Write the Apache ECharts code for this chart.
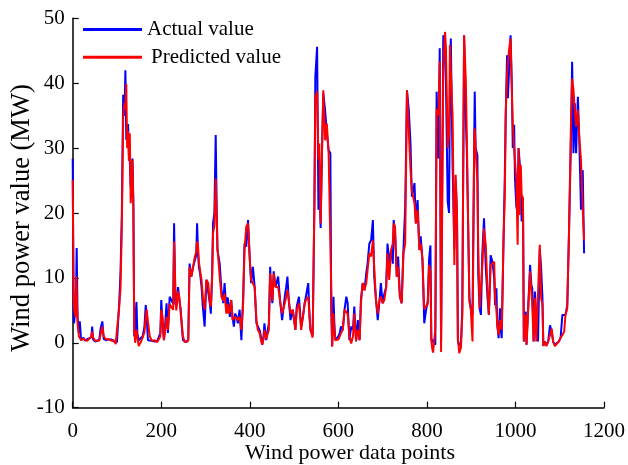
<!DOCTYPE html>
<html>
<head>
<meta charset="utf-8">
<script src="https://cdn.jsdelivr.net/npm/echarts@6/dist/echarts.min.js"></script>
<style>html,body{margin:0;padding:0;background:#fff}#c{width:628px;height:465px}</style>
</head>
<body>
<div id="c"></div>
<script>
// Data point index (x positions)
const points = [
0,2,3,6,8,9,11,14,16,19,24,28,33,37,42,44,46,51,55,60,63,67,70,75,80,84,88,93,97,100,
105,108,111,114,117,119,121,123,125,127,129,131,133,135,137,139,141,144,146,149,153,158,162,165,167,170,174,179,185,191,
195,198,200,203,206,209,212,215,219,223,227,229,232,234,238,241,244,247,249,253,257,261,264,268,272,276,279,281,283,285,
288,291,294,298,302,306,310,312,315,317,320,323,325,327,330,332,336,340,343,347,350,352,355,358,361,364,367,370,373,377,
381,385,388,392,396,400,403,407,411,415,418,422,425,428,431,433,437,441,443,446,448,451,454,458,464,469,473,479,482,485,
488,492,497,503,506,511,516,520,524,527,532,535,537,542,546,548,552,555,557,560,563,566,570,574,578,582,584,586,589,591,
593,597,600,603,606,610,614,618,621,625,629,633,636,640,644,648,651,655,659,663,666,670,674,678,681,685,689,693,696,700,
704,708,711,715,719,723,725,728,732,735,739,743,747,751,755,759,763,766,772,775,779,783,786,790,794,798,802,805,808,810,
812,814,819,822,826,829,832,837,841,843,847,850,852,854,858,862,865,868,870,873,877,880,884,888,890,894,896,899,903,907,
908,910,914,916,919,922,925,929,933,937,940,944,948,952,954,957,959,962,965,967,969,973,976,978,981,983,986,989,992,994,
997,999,1002,1005,1007,1010,1012,1014,1017,1019,1023,1025,1029,1033,1036,1038,1041,1044,1047,1051,1055,1058,1061,1063,1066,1070,1074,1078,1082,1085,
1089,1093,1098,1102,1106,1110,1113,1117,1121,1125,1128,1131,1134,1137,1141,1144,1148,1152,1155
];
// Actual wind power (MW)
const actualValue = [
28.4,5.5,3.0,5,10,14.6,4,1.5,3.3,0.4,0.8,0.3,0.6,0.4,0.8,2.5,0.5,0.2,0.4,0.5,2.2,3.3,0.6,0.4,0.5,0.3,0.5,0.2,0.1,0.1,
6.1,10.9,20,38.2,35,42.0,31.3,33,33.7,29,28,24,27,28.4,22,1,2,6.3,1.5,0.4,0.6,1.0,2.5,5.8,4,0.4,0.5,0.3,0.2,0.3,
0.3,1.5,6.6,3,0.4,3,6.1,1.5,7.1,7.1,6,18.4,6,5.6,8.6,6.5,5.1,2,0.4,0.2,0.1,0.5,12.2,10.2,11.7,12,13.5,18.4,14,11.7,
10.5,8.6,5.5,2.5,9.7,9.7,6,4.5,11,18.4,20,32.0,22,14.3,13,12.2,8.1,6.1,9.2,5.1,7,6.1,4,6.6,4,2.5,4.5,4,3,5.1,
0.4,7.1,15.3,14.8,18.9,12.8,9.2,11.7,8.6,3.0,3.0,2.0,1,-0.3,1,3.0,0.4,0.4,3,11.7,8,6.1,11,8.6,10.2,6.1,3.5,7.1,8.5,10.2,
6.6,3.5,5.1,2.0,5.6,7.1,2.5,4.0,6.1,6.1,9.2,4,2.0,1.2,21.5,41,45.6,20.5,25,17.7,29.2,38.4,35.9,32.3,29.7,29.2,5,-0.5,7.1,3,
0.4,0.2,1,1.5,2.5,2.0,5.1,7.1,6.1,0.4,2.5,2.0,5.6,0.2,3.5,0.4,6.6,9.2,8.1,10.7,12.2,15.3,15.8,18.9,10.2,6.6,3.5,6.6,9.2,6.1,
7.6,8.6,15.3,12.2,14.3,12.2,18.9,17,10.2,13.3,7.1,6.1,14.3,21,38.9,36,30.7,22.5,24.6,18.4,22,14.3,16.4,12.8,3,5,6.5,13,15,0.5,
0,0.5,-0.3,38.7,28.4,45.4,0.2,47.4,43.8,40.2,21.7,20,40,46.9,27.4,14.5,24.8,20,0.2,-0.5,0.2,5.3,47.4,34.1,30,15,6.9,5.3,4.3,32,
38.7,30,28.9,10.4,5.3,4.3,13.5,19.2,11.5,6.9,4.3,13.5,12.5,10,5.8,8.4,2.7,0.7,5.3,2,0.7,15.6,25.9,35.1,44.3,37.7,42.8,47.4,39.2,30,
33.6,25.2,21,20,30,27.4,24.8,18.7,21.7,0.2,4.8,-0.3,0,12,8.9,8.4,0.2,7.9,4.3,0.2,14.5,11.5,6.9,-0.5,0.2,-0.3,0.2,2.7,1.7,0.2,
-0.3,-0.4,0.2,0.8,4.3,4.3,4.3,5.8,17.1,30,43.3,29.2,36.9,29.2,37.9,31.8,20.5,26.6,13.8
];
// Predicted wind power (MW)
const predictedValue = [
25.1,7,5.5,4,10.2,8,3,1,0.8,0.4,0.6,0.5,0.3,0.4,1.0,1.7,0.8,0.3,0.4,0.3,1.3,2.5,1.0,0.5,0.6,0.4,0.3,0.4,-0.2,-0.3,
5.5,8.4,18,34.9,37,36,39.9,30,32.6,28,32.3,21.5,24,28.2,20.6,2,0,2.0,1,-0.5,0,0.8,1.6,4,5.1,3.3,1,0.3,0.4,0.1,
0.2,1,5.1,4,0.4,2,4.0,2,6,5.5,5.1,15.6,8,5,7.9,7,4.5,2.5,1,0.1,0,0.3,11.7,10.2,10.5,13.3,14,15.6,15,12.5,
11,9.7,7,5.1,9.7,9.2,6,5.6,10,16.9,18,25.3,20,14.5,12,10.2,7.1,6.5,7.6,4.5,6,4.5,5,6.6,3.5,3.5,4,4,3.5,4,
2.0,6.1,14.3,17.9,18.4,12.8,9.7,9.7,8.6,3.5,2.0,1.5,0.5,-0.3,0.5,2.0,0.6,0.4,2,10.7,9,6.5,10.7,8.6,8.6,6.1,4.5,6.1,7,8.1,
6.6,4.5,5.1,2.0,5.1,6.1,2.0,4.0,6.1,6.6,7.1,4,2.0,0.8,22.5,37.9,38.7,28.2,30.7,18.4,29.5,38.9,31.2,33.8,29.2,29.0,8,-0.6,4.5,2,
0.4,0.2,0.5,1.0,1.5,2.0,5.1,5.1,4.5,1,-0.1,1,4.5,0.3,2.0,0.4,6.1,9.2,8.1,9.2,11.2,13.8,13.3,15.8,11.7,6.6,4.5,6.6,7.1,6.1,
6.6,8.6,13.8,9.7,14.3,15.3,18.4,17.9,10.2,11.7,7.1,6.1,13.8,15.3,38.9,38.9,26.6,23.5,21.5,18.4,20.5,14.3,15.3,12.8,5.2,5.5,6,12,11,0.4,
-0.9,-1.5,2.2,36,35.1,43.3,-1.4,42.3,47.9,45.4,30,32,45.9,42,35.1,12,25.9,19.7,0.7,-1.6,-0.7,4.3,47.4,40.2,32.5,14.5,6.4,5.3,0.2,31.5,
33,30,24.8,14.5,5.3,5.3,11.5,17.6,15.1,7.9,4.3,12,12,12.5,6.9,5,2.7,1.2,3.5,3.3,2,15.6,22.8,35.1,41.3,43.3,45.4,46.9,38.2,33.6,
30,30,25,15.1,30,19.7,27.4,22.8,22.3,0.2,4.3,-0.3,-0.2,11,7.9,5.8,0.2,6.9,0.2,0.2,15.1,6.9,5.8,-0.5,0.2,-0.5,0.2,0.2,2.2,0.2,
-0.5,-0.8,0.2,0.8,1.2,1.7,4.3,5.3,17.1,32.5,40.7,39,35.9,33.3,35.9,31.8,28.2,20.5,15.8
];
const seriesNames = ['Actual value', 'Predicted value'];
const xAxisTitle = 'Wind power data points';
const yAxisTitle = 'Wind power value (MW)';
const xTicks = {min: 0, max: 1200, interval: 200};
const yTicks = {min: -10, max: 50, interval: 10};

const chart = echarts.init(document.getElementById('c'), null, {renderer: 'canvas'});
const font = 'Liberation Serif';
const pairs = (vals) => points.map((x, i) => [x, vals[i]]);
chart.setOption({
  animation: false,
  backgroundColor: '#ffffff',
  grid: {left: 72.7, right: 23, top: 18.3, bottom: 57.3, containLabel: false},
  legend: {
    orient: 'vertical', left: 78, top: 14, itemWidth: 59, itemHeight: 3, itemGap: 6.7,
    icon: 'rect',
    formatter: function (name) { return name === seriesNames[1] ? '{p|' + name + '}' : name; },
    textStyle: {fontFamily: font, fontSize: 21, color: '#000', lineHeight: 20,
      rich: {p: {fontFamily: font, fontSize: 21, color: '#000', lineHeight: 20, padding: [0, 0, 0, 4]}}},
    data: seriesNames
  },
  graphic: [
    {type: 'text', x: 350, y: 453, silent: true,
     style: {text: xAxisTitle, fontFamily: font, fontSize: 22, fill: '#000', textAlign: 'center', textVerticalAlign: 'middle'}},
    {type: 'text', x: 22, y: 218, rotation: Math.PI / 2, silent: true,
     style: {text: yAxisTitle, fontFamily: font, fontSize: 26.5, fill: '#000', textAlign: 'center', textVerticalAlign: 'middle'}}
  ],
  xAxis: {
    type: 'value', min: xTicks.min, max: xTicks.max, interval: xTicks.interval,
    axisLine: {onZero: false, lineStyle: {color: '#000', width: 1.5}},
    axisTick: {inside: true, length: 6, lineStyle: {color: '#000', width: 1.2}},
    axisLabel: {fontFamily: font, fontSize: 21, color: '#000', margin: 13, formatter: function (v) { return String(v); }},
    splitLine: {show: false}
  },
  yAxis: {
    type: 'value', min: yTicks.min, max: yTicks.max, interval: yTicks.interval,
    axisLine: {show: true, onZero: false, lineStyle: {color: '#000', width: 1.5}},
    axisTick: {show: true, inside: true, length: 6, lineStyle: {color: '#000', width: 1.2}},
    axisLabel: {fontFamily: font, fontSize: 21, color: '#000', margin: 8},
    splitLine: {show: false}
  },
  series: [
    {name: seriesNames[0], type: 'line', data: pairs(actualValue), showSymbol: false, symbol: 'none',
     lineStyle: {color: '#0000ff', width: 2}, itemStyle: {color: '#0000ff'}},
    {name: seriesNames[1], type: 'line', data: pairs(predictedValue), showSymbol: false, symbol: 'none',
     lineStyle: {color: '#ff0000', width: 2}, itemStyle: {color: '#ff0000'}}
  ]
});
</script>
</body>
</html>
